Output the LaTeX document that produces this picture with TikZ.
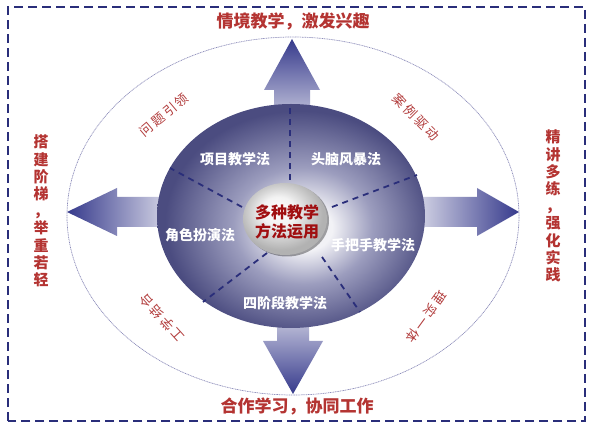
\documentclass[tikz,border=0pt]{standalone}
\usepackage{fontspec}
\setmainfont{Noto Sans CJK SC}
\definecolor{navy}{HTML}{2A2E7A}
\definecolor{arrowdark}{HTML}{363A8C}
\definecolor{arrowlight}{HTML}{E8E8F1}
\definecolor{titlered}{HTML}{B43432}
\definecolor{arcred}{HTML}{B23C3C}
\definecolor{centerred}{HTML}{A00E10}
\definecolor{dlight}{HTML}{F2F2F6}
\definecolor{dmid}{HTML}{9C9DBE}
\definecolor{ddark}{HTML}{4B4C80}
\definecolor{ellline}{HTML}{8C8CBA}
\pgfdeclareradialshading{diskshade}{\pgfpoint{3bp}{-3bp}}{color(0bp)=(dlight); color(5bp)=(dlight); color(13bp)=(dmid); color(25bp)=(ddark); color(50bp)=(ddark)}
\pgfdeclareradialshading{silvershade}{\pgfpoint{-5bp}{7bp}}{color(0bp)=(white); color(10bp)=(white!90!gray); color(25bp)=(gray!60); color(50bp)=(gray!60)}
\tikzset{
  frame/.style={draw=navy, line width=1.8pt, dash pattern=on 9pt off 5pt},
  guide/.style={draw=ellline, line width=0.7pt, dash pattern=on 1pt off 0.7pt},
  divider/.style={draw=navy, line width=1.8pt, dash pattern=on 6pt off 5pt},
  bigarrow/.style={draw=none},
  title/.style={text=titlered, font=\fontsize{17}{20}\selectfont\bfseries, inner sep=0pt},
  vtext/.style={text=titlered, font=\fontsize{15}{17.2}\selectfont\bfseries, align=center, inner sep=0pt},
  method/.style={text=white, font=\fontsize{14}{16}\selectfont\bfseries, inner sep=0pt},
  arctext/.style={text=arcred, font=\fontsize{13}{14}\selectfont, inner sep=0pt},
  centertext/.style={text=centerred, font=\fontsize{16}{19}\selectfont\bfseries, align=center, inner sep=0pt}
}
\newcommand{\chgap}{\hspace{2.5pt}}
\begin{document}
\begin{tikzpicture}[x=1pt,y=1pt]
\useasboundingbox (0,0) rectangle (591,428);
\fill[white] (0,0) rectangle (591,428);
% frame
\draw[frame] (8,7) rectangle (585,421);
% outer guide ellipse
\draw[guide] (293,212) ellipse [x radius=226, y radius=179];
% arrows
\shade[bigarrow, top color=arrowdark, bottom color=arrowlight]
  (274,290) -- (274,338) -- (264,338) -- (292,389) -- (320,338) -- (310,338) -- (310,290) -- cycle;
\shade[bigarrow, bottom color=arrowdark, top color=arrowlight]
  (277,130) -- (277,87) -- (263,87) -- (293,34) -- (323,87) -- (309,87) -- (309,130) -- cycle;
\shade[bigarrow, left color=arrowdark, right color=arrowlight]
  (180,201) -- (117,201) -- (117,192) -- (67,216) -- (117,240) -- (117,231) -- (180,231) -- cycle;
\shade[bigarrow, right color=arrowdark, left color=arrowlight]
  (405,201) -- (477,201) -- (477,192) -- (519,216) -- (477,240) -- (477,231) -- (405,231) -- cycle;
% disk
\path[shading=diskshade] (291,212) ellipse [x radius=134, y radius=112];
% dividers
\draw[divider] (290,248) -- (290,323);
\draw[divider] (242,221) -- (170,260);
\draw[divider] (332,221) -- (417,253);
\draw[divider] (267,175) -- (203,126);
\draw[divider] (322,171) -- (360,116);
% centre ellipse
\fill[black, opacity=0.35] (287,207.5) ellipse [x radius=42, y radius=36];
\path[shading=silvershade] (285,209) ellipse [x radius=42, y radius=36];
\node[centertext] (core) at (287,206) {多种教学\\方法运用};
% methods
\node[method] (m1) at (235,269) {项目教学法};
\node[method] (m2) at (346,269) {头脑风暴法};
\node[method] (m3) at (200,193) {角色扮演法};
\node[method] (m4) at (373,183) {手把手教学法};
\node[method] (m5) at (285,125) {四阶段教学法};
% titles
\node[title] (top) at (293,407) {情境教学，激发兴趣};
\node[title] (bottom) at (297,22) {合作学习，协同工作};
\node[vtext] (left) at (41,217) {搭\\建\\阶\\梯\\，\\举\\重\\若\\轻};
\node[vtext] (right) at (553,222) {精\\讲\\多\\练\\，\\强\\化\\实\\践};
% arc words
\node[arctext, rotate=40] (tl) at (164,313) {问\chgap 题\chgap 引\chgap 领};
\node[arctext, rotate=-45] (tr) at (416,311) {案\chgap 例\chgap 驱\chgap 动};
\node[arctext, rotate=132] (bl) at (162,110) {工\chgap 学\chgap 结\chgap 合};
\node[arctext, rotate=-126] (br) at (426,111) {理\chgap 实\chgap 一\chgap 体};
\end{tikzpicture}
\end{document}
